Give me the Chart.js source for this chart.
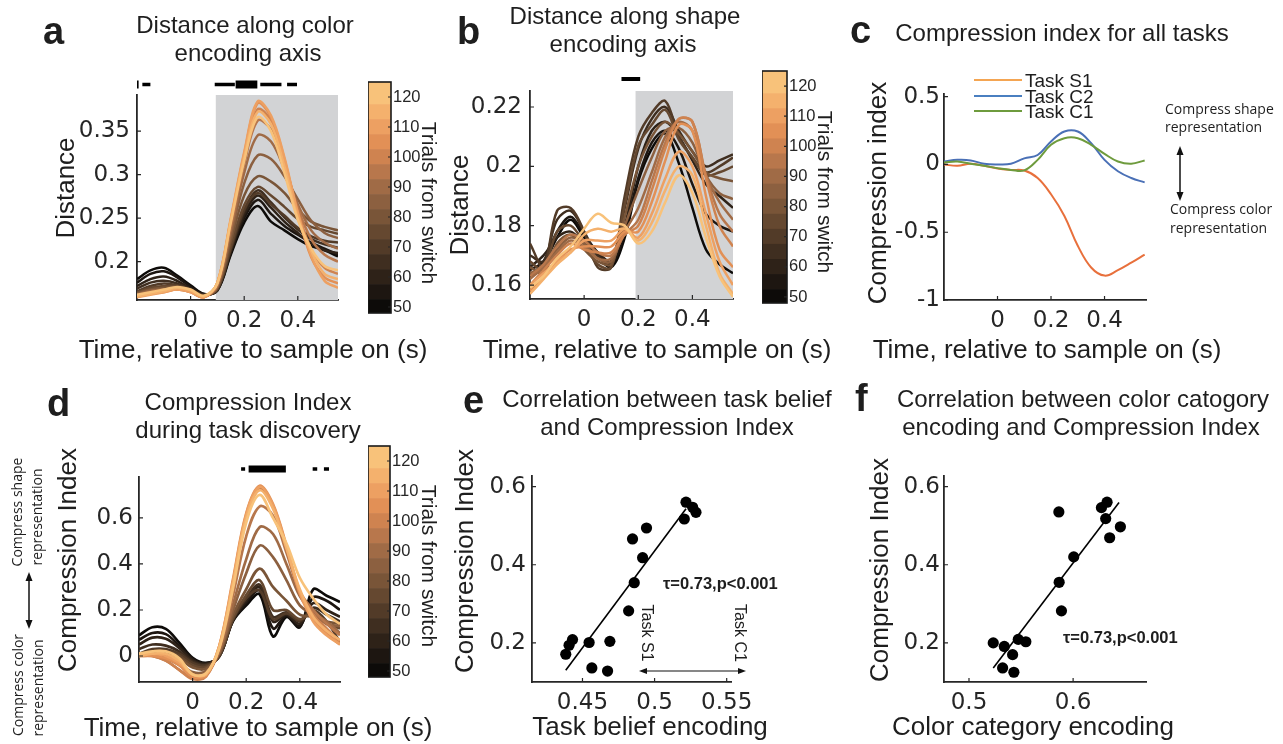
<!DOCTYPE html>
<html>
<head>
<meta charset="utf-8">
<title>Compression index during task discovery</title>
<script src="https://cdn.jsdelivr.net/npm/chart.js@4.4.1/dist/chart.umd.min.js"></script>
<style>
  body { margin: 0; width: 1283px; height: 744px; background: #fff; position: relative; overflow: hidden; color: #1e1e1e; font-family: "Liberation Sans", Arial, sans-serif; }
  canvas { position: absolute; }
  .t { position: absolute; white-space: nowrap; line-height: 1; z-index: 3; }
  .leg { position: absolute; height: 0; width: 48px; border-top: 2px solid; z-index: 3; }
  svg { position: absolute; left: 0; top: 0; z-index: 2; }
</style>
</head>
<body>
<svg width="1283" height="744">
  <g stroke="#111" stroke-width="1.5" fill="#111">
    <line x1="1180" y1="152" x2="1180" y2="195"/>
    <polygon points="1180,146 1176.5,155 1183.5,155" stroke="none"/>
    <polygon points="1180,201 1176.5,192 1183.5,192" stroke="none"/>
    <line x1="29" y1="578" x2="29" y2="623"/>
    <polygon points="29,572 25.5,581 32.5,581" stroke="none"/>
    <polygon points="29,629 25.5,620 32.5,620" stroke="none"/>
    <line x1="645" y1="671" x2="740" y2="671" stroke-width="1.2"/>
    <polygon points="639,671 647,668 647,674" stroke="none"/>
    <polygon points="746,671 738,668 738,674" stroke="none"/>
  </g>
</svg>
<script>
const INK = '#262626';
const TITLE_FONT = '"Liberation Sans", Arial, sans-serif';
const NOTE_FONT = '"Open Sans", "Liberation Sans", sans-serif';

// --- DATA ---
const timeS = [-0.2, -0.15, -0.1, -0.05, 0, 0.05, 0.1, 0.15, 0.2, 0.25, 0.3, 0.35, 0.4, 0.45, 0.5, 0.55];
const trials = [50, 55, 60, 65, 70, 75, 80, 85, 90, 95, 100, 105, 110, 115, 120];
const trialColors = ['#0d0b09', '#1d1611', '#2e2218', '#3f2e20', '#523b28', '#654830', '#795538', '#8c6040',
                     '#a06b46', '#b8774c', '#cf8350', '#e29056', '#eda062', '#f4b16d', '#f8c27a'];
const cbEdges = [48, 52.5, 57.5, 62.5, 67.5, 72.5, 77.5, 82.5, 87.5, 92.5, 97.5, 102.5, 107.5, 112.5, 117.5, 125];
const cbTicks = [50, 60, 70, 80, 90, 100, 110, 120];
const timeTicks = [0, 0.2, 0.4];

// a: distance along color encoding axis, one row per trial bin
const distColor = [
  [0.180, 0.190, 0.193, 0.184, 0.173, 0.163, 0.167, 0.208, 0.245, 0.264, 0.246, 0.236, 0.226, 0.218, 0.213, 0.206],
  [0.176, 0.186, 0.189, 0.182, 0.171, 0.163, 0.167, 0.210, 0.250, 0.271, 0.255, 0.241, 0.231, 0.222, 0.215, 0.208],
  [0.172, 0.180, 0.183, 0.178, 0.169, 0.162, 0.168, 0.212, 0.254, 0.276, 0.262, 0.246, 0.233, 0.221, 0.213, 0.210],
  [0.169, 0.176, 0.178, 0.175, 0.168, 0.162, 0.168, 0.214, 0.258, 0.282, 0.268, 0.251, 0.237, 0.226, 0.220, 0.216],
  [0.166, 0.172, 0.175, 0.173, 0.168, 0.161, 0.168, 0.215, 0.260, 0.279, 0.266, 0.253, 0.239, 0.229, 0.224, 0.222],
  [0.165, 0.170, 0.172, 0.172, 0.167, 0.161, 0.169, 0.218, 0.265, 0.286, 0.276, 0.263, 0.249, 0.240, 0.236, 0.232],
  [0.164, 0.168, 0.170, 0.171, 0.167, 0.161, 0.170, 0.224, 0.276, 0.298, 0.292, 0.279, 0.260, 0.246, 0.240, 0.236],
  [0.163, 0.167, 0.168, 0.170, 0.166, 0.160, 0.171, 0.230, 0.290, 0.322, 0.318, 0.298, 0.272, 0.247, 0.233, 0.227],
  [0.162, 0.166, 0.168, 0.169, 0.166, 0.160, 0.172, 0.236, 0.302, 0.345, 0.338, 0.306, 0.266, 0.236, 0.222, 0.215],
  [0.161, 0.165, 0.167, 0.169, 0.166, 0.160, 0.173, 0.240, 0.312, 0.362, 0.352, 0.312, 0.262, 0.226, 0.208, 0.200],
  [0.160, 0.163, 0.166, 0.168, 0.165, 0.159, 0.175, 0.246, 0.320, 0.375, 0.362, 0.314, 0.258, 0.214, 0.193, 0.186],
  [0.160, 0.163, 0.165, 0.168, 0.165, 0.159, 0.176, 0.248, 0.324, 0.382, 0.366, 0.318, 0.255, 0.205, 0.182, 0.175],
  [0.159, 0.162, 0.165, 0.168, 0.165, 0.159, 0.176, 0.250, 0.326, 0.384, 0.368, 0.320, 0.256, 0.207, 0.178, 0.170],
  [0.160, 0.163, 0.166, 0.170, 0.167, 0.160, 0.176, 0.248, 0.320, 0.372, 0.358, 0.310, 0.250, 0.212, 0.186, 0.180],
  [0.162, 0.165, 0.168, 0.171, 0.168, 0.161, 0.175, 0.245, 0.316, 0.366, 0.350, 0.302, 0.248, 0.215, 0.195, 0.190]
];
const ticksDistColor = [0.2, 0.25, 0.3, 0.35];
const shadeColor = [0.094, 0.55];
const sigThinA = [[-0.18, -0.15], [0.09, 0.165], [0.26, 0.339], [0.36, 0.397]];
const sigThickA = [[-0.2, -0.194], [0.168, 0.249]];

// b: distance along shape encoding axis
const distShape = [
  [0.163, 0.167, 0.176, 0.182, 0.176, 0.170, 0.166, 0.176, 0.195, 0.206, 0.211, 0.201, 0.186, 0.172, 0.167, 0.164],
  [0.165, 0.168, 0.178, 0.183, 0.177, 0.171, 0.167, 0.178, 0.196, 0.208, 0.212, 0.206, 0.194, 0.184, 0.180, 0.178],
  [0.166, 0.170, 0.176, 0.178, 0.174, 0.171, 0.168, 0.180, 0.200, 0.212, 0.215, 0.210, 0.202, 0.194, 0.190, 0.186],
  [0.170, 0.168, 0.182, 0.185, 0.178, 0.170, 0.168, 0.186, 0.206, 0.216, 0.220, 0.212, 0.205, 0.200, 0.202, 0.204],
  [0.174, 0.166, 0.185, 0.186, 0.178, 0.166, 0.166, 0.190, 0.210, 0.218, 0.222, 0.210, 0.203, 0.198, 0.200, 0.203],
  [0.168, 0.165, 0.178, 0.180, 0.174, 0.167, 0.166, 0.187, 0.207, 0.214, 0.219, 0.209, 0.203, 0.197, 0.198, 0.200],
  [0.166, 0.164, 0.174, 0.177, 0.172, 0.168, 0.167, 0.183, 0.200, 0.210, 0.215, 0.211, 0.205, 0.198, 0.196, 0.195],
  [0.164, 0.166, 0.172, 0.176, 0.174, 0.169, 0.168, 0.180, 0.192, 0.203, 0.212, 0.213, 0.208, 0.197, 0.191, 0.189],
  [0.162, 0.166, 0.171, 0.175, 0.173, 0.169, 0.169, 0.178, 0.186, 0.198, 0.210, 0.215, 0.212, 0.197, 0.188, 0.182],
  [0.163, 0.167, 0.173, 0.177, 0.175, 0.171, 0.170, 0.177, 0.182, 0.195, 0.208, 0.216, 0.215, 0.197, 0.184, 0.178],
  [0.160, 0.165, 0.170, 0.174, 0.172, 0.171, 0.171, 0.177, 0.180, 0.192, 0.206, 0.216, 0.215, 0.196, 0.180, 0.173],
  [0.158, 0.163, 0.168, 0.172, 0.173, 0.173, 0.173, 0.178, 0.178, 0.188, 0.202, 0.214, 0.212, 0.190, 0.172, 0.166],
  [0.160, 0.164, 0.168, 0.171, 0.175, 0.175, 0.175, 0.179, 0.176, 0.184, 0.196, 0.205, 0.200, 0.184, 0.168, 0.160],
  [0.157, 0.162, 0.167, 0.171, 0.177, 0.179, 0.178, 0.179, 0.175, 0.181, 0.192, 0.200, 0.197, 0.180, 0.164, 0.157],
  [0.159, 0.163, 0.169, 0.173, 0.179, 0.184, 0.181, 0.180, 0.174, 0.178, 0.188, 0.197, 0.191, 0.176, 0.163, 0.156]
];
const ticksDistShape = [0.16, 0.18, 0.2, 0.22];
const shadeShape = [0.19, 0.55];
const sigThinB = [[0.138, 0.207]];

// c: compression index for all tasks
const taskNames = ['Task S1', 'Task C2', 'Task C1'];
const ciTaskS1 = [0.00, -0.01, 0.005, -0.01, -0.03, -0.04, -0.045, -0.10, -0.22, -0.38, -0.60, -0.76, -0.82, -0.78, -0.725, -0.665];
const ciTaskC2 = [0.022, 0.034, 0.03, 0.005, 0.0, 0.005, 0.045, 0.07, 0.17, 0.243, 0.243, 0.157, 0.034, -0.05, -0.10, -0.132];
const ciTaskC1 = [0.015, 0.022, 0.005, -0.01, -0.027, -0.04, -0.044, 0.034, 0.145, 0.194, 0.194, 0.145, 0.078, 0.022, 0.005, 0.03];
const ticksCI = [-1, -0.5, 0, 0.5];

// d: compression index during task discovery
const ciDiscovery = [
  [0.090, 0.125, 0.118, 0.058, -0.008, -0.030, 0.000, 0.150, 0.220, 0.268, 0.085, 0.170, 0.125, 0.290, 0.262, 0.235],
  [0.070, 0.100, 0.095, 0.045, -0.012, -0.032, 0.000, 0.152, 0.230, 0.285, 0.120, 0.175, 0.130, 0.255, 0.240, 0.200],
  [0.050, 0.080, 0.075, 0.035, -0.018, -0.035, 0.000, 0.154, 0.240, 0.300, 0.150, 0.180, 0.140, 0.230, 0.200, 0.170],
  [0.030, 0.050, 0.045, 0.020, -0.025, -0.038, 0.000, 0.156, 0.250, 0.310, 0.170, 0.190, 0.150, 0.210, 0.180, 0.150],
  [0.010, 0.030, 0.030, 0.010, -0.030, -0.042, 0.000, 0.158, 0.252, 0.285, 0.160, 0.185, 0.155, 0.200, 0.150, 0.060],
  [0.000, 0.020, 0.020, 0.000, -0.040, -0.048, 0.005, 0.162, 0.265, 0.330, 0.200, 0.200, 0.160, 0.190, 0.140, 0.120],
  [0.010, 0.015, 0.010, -0.010, -0.050, -0.055, 0.010, 0.175, 0.290, 0.380, 0.300, 0.240, 0.180, 0.170, 0.150, 0.140],
  [0.000, 0.010, 0.000, -0.030, -0.070, -0.065, 0.015, 0.195, 0.360, 0.480, 0.430, 0.330, 0.220, 0.180, 0.140, 0.130],
  [0.005, 0.005, -0.010, -0.040, -0.080, -0.075, 0.020, 0.220, 0.420, 0.560, 0.530, 0.400, 0.260, 0.190, 0.150, 0.100],
  [0.000, 0.000, -0.020, -0.060, -0.095, -0.085, 0.030, 0.260, 0.520, 0.650, 0.610, 0.450, 0.280, 0.200, 0.140, 0.090],
  [0.010, 0.000, -0.020, -0.060, -0.100, -0.090, 0.040, 0.310, 0.600, 0.725, 0.650, 0.470, 0.280, 0.180, 0.120, 0.060],
  [0.000, 0.000, -0.010, -0.040, -0.090, -0.085, 0.045, 0.330, 0.620, 0.740, 0.660, 0.480, 0.270, 0.160, 0.100, 0.050],
  [0.010, 0.010, 0.000, -0.030, -0.080, -0.080, 0.045, 0.320, 0.615, 0.735, 0.655, 0.475, 0.280, 0.150, 0.090, 0.050],
  [0.000, 0.010, 0.010, -0.020, -0.080, -0.080, 0.040, 0.310, 0.600, 0.720, 0.640, 0.470, 0.290, 0.170, 0.110, 0.070],
  [0.010, 0.020, 0.020, -0.010, -0.080, -0.075, 0.035, 0.290, 0.580, 0.700, 0.600, 0.490, 0.340, 0.250, 0.180, 0.140]
];
const ticksCIdisc = [0, 0.2, 0.4, 0.6];
const sigThinD = [[0.181, 0.196], [0.448, 0.465], [0.49, 0.509]];
const sigThickD = [[0.209, 0.348]];

// e: task belief vs compression index
const beliefX = [0.4384, 0.4407, 0.4431, 0.4546, 0.4565, 0.4674, 0.4690, 0.4820, 0.4859, 0.4847, 0.4917, 0.4944, 0.5206, 0.5218, 0.5264, 0.5287];
const beliefCI = [0.171, 0.194, 0.2085, 0.201, 0.136, 0.128, 0.204, 0.282, 0.354, 0.466, 0.418, 0.494, 0.517, 0.560, 0.547, 0.534];
const beliefFitX = [0.4384, 0.5218];
const beliefFitY = [0.130, 0.543];
const ticksBelief = [0.45, 0.5, 0.55];

// f: color category encoding vs compression index
const colorCatX = [0.5233, 0.5339, 0.5419, 0.5323, 0.5431, 0.5473, 0.5546, 0.5863, 0.5866, 0.5888, 0.6006, 0.6272, 0.6326, 0.6313, 0.6351, 0.6454];
const colorCatCI = [0.200, 0.191, 0.170, 0.136, 0.125, 0.209, 0.203, 0.535, 0.355, 0.282, 0.420, 0.546, 0.560, 0.518, 0.469, 0.497];
const colorFitX = [0.5233, 0.6441];
const colorFitY = [0.136, 0.559];
const ticksColorCat = [0.5, 0.6];
const ticksCIscatter = [0.2, 0.4, 0.6];

// --- PLUGINS ---
const innerTicks = {
  id: 'innerTicks',
  afterDraw(chart, args, o) {
    if (!o.len) return;
    const { ctx, chartArea: a, scales } = chart;
    ctx.save();
    ctx.strokeStyle = INK;
    ctx.lineWidth = 1.2;
    ctx.beginPath();
    if (o.side === 'right') {
      scales.y.ticks.forEach(t => { const p = scales.y.getPixelForValue(t.value); ctx.moveTo(a.right, p); ctx.lineTo(a.right - o.len, p); });
    } else {
      scales.x.ticks.forEach(t => { const p = scales.x.getPixelForValue(t.value); ctx.moveTo(p, a.bottom); ctx.lineTo(p, a.bottom - o.len); });
      scales.y.ticks.forEach(t => { const p = scales.y.getPixelForValue(t.value); ctx.moveTo(a.left, p); ctx.lineTo(a.left + o.len, p); });
    }
    ctx.stroke();
    ctx.restore();
  }
};

const shade = {
  id: 'shade',
  beforeDatasetsDraw(chart, args, o) {
    if (!o.range) return;
    const { ctx, chartArea: a, scales: { x } } = chart;
    const x0 = x.getPixelForValue(o.range[0]), x1 = x.getPixelForValue(o.range[1]);
    ctx.save();
    ctx.fillStyle = '#d2d3d5';
    ctx.fillRect(x0, a.top, x1 - x0, a.bottom - a.top);
    ctx.restore();
  }
};

const sigBars = {
  id: 'sigBars',
  afterDraw(chart, args, o) {
    if (!o.thin) return;
    const { ctx, chartArea: a, scales: { x } } = chart;
    const yc = a.top - o.gap;
    const bar = (r, h) => {
      const x0 = x.getPixelForValue(r[0]), x1 = x.getPixelForValue(r[1]);
      ctx.fillRect(x0, yc - h / 2, x1 - x0, h);
    };
    ctx.save();
    ctx.fillStyle = '#000';
    o.thin.forEach(r => bar(r, o.thinH));
    (o.thick || []).forEach(r => bar(r, o.thickH));
    ctx.restore();
  }
};

const frame = {
  id: 'frame',
  afterDatasetsDraw(chart, args, o) {
    if (!o.on) return;
    const { ctx, chartArea: a } = chart;
    ctx.save();
    ctx.strokeStyle = '#1a1a1a';
    ctx.lineWidth = 1.6;
    ctx.strokeRect(a.left, a.top, a.right - a.left, a.bottom - a.top);
    ctx.restore();
  }
};

Chart.register(innerTicks, shade, sigBars, frame);
Chart.defaults.animation = false;
Chart.defaults.responsive = false;
Chart.defaults.events = [];
Chart.defaults.font.family = 'DejaVu Sans';
Chart.defaults.color = INK;
Chart.defaults.plugins.legend.display = false;
Chart.defaults.plugins.tooltip.enabled = false;

// --- HELPERS ---
function mkCanvas(left, top, w, h) {
  const c = document.createElement('canvas');
  c.width = w;
  c.height = h;
  c.style.left = left + 'px';
  c.style.top = top + 'px';
  document.body.appendChild(c);
  return c;
}

function T(s, x, y, size, o = {}) {
  const d = document.createElement('div');
  d.className = 't';
  d.textContent = s;
  d.style.left = x + 'px';
  d.style.top = y + 'px';
  d.style.fontSize = size + 'px';
  d.style.fontFamily = o.font || TITLE_FONT;
  if (o.bold) d.style.fontWeight = 'bold';
  d.style.transform = `translate(${o.left ? '0' : '-50%'},-50%)` + (o.rot ? ` rotate(${o.rot}deg)` : '');
  document.body.appendChild(d);
}

function axis(range, ticks, pad, fit) {
  return {
    type: 'linear', min: range[0], max: range[1],
    afterBuildTicks: s => { s.ticks = ticks.map(v => ({ value: v })); },
    afterFit: fit,
    grid: { display: false, drawTicks: false },
    border: { display: true, color: INK, width: 1.8 },
    ticks: { font: { size: 23 }, color: INK, padding: pad, maxRotation: 0, autoSkip: false, callback: v => String(v) }
  };
}

// area = chart area in page pixels; axes get fixed room so the plot lands exactly there
function plot(type, area, datasets, xr, yr, xt, yt, extra = {}, yPad = 6) {
  const cv = mkCanvas(area.x - 70, area.y - 24, area.w + 98, area.h + 64);
  return new Chart(cv, {
    type,
    data: { datasets },
    options: {
      layout: { padding: { top: 24, right: 28, left: 0, bottom: 0 } },
      scales: {
        x: axis(xr, xt, 7, s => { s.height = 40; }),
        y: axis(yr, yt, yPad, s => { s.width = 70; })
      },
      plugins: Object.assign({ innerTicks: { len: 4 } }, extra)
    }
  });
}

const trialSets = (rows, w) => rows.map((vals, i) => ({
  label: trials[i] + ' trials',
  data: vals.map((v, j) => ({ x: timeS[j], y: v })),
  borderColor: trialColors[i], borderWidth: w, pointRadius: 0, tension: 0.35
})).reverse();

const curve = (vals, color, label) => ({
  label, data: vals.map((v, j) => ({ x: timeS[j], y: v })),
  borderColor: color, borderWidth: 2, pointRadius: 0, tension: 0.4
});

const dots = (xs, ys) => ({ type: 'scatter', data: xs.map((x, i) => ({ x, y: ys[i] })), pointRadius: 5.6, backgroundColor: '#000', borderWidth: 0 });
const fitLine = (xs, ys) => ({ type: 'line', data: xs.map((x, i) => ({ x, y: ys[i] })), borderColor: '#000', borderWidth: 1.6, pointRadius: 0, showLine: true });

function colorbar(area) {
  const cv = mkCanvas(area.x, area.y - 15, area.w + 45, area.h + 30);
  new Chart(cv, {
    type: 'bar',
    data: {
      labels: [''],
      datasets: trialColors.map((c, i) => ({
        label: trials[i] + ' trials', data: [[cbEdges[i], cbEdges[i + 1]]],
        backgroundColor: c, grouped: false, barPercentage: 1, categoryPercentage: 1, borderWidth: 0
      }))
    },
    options: {
      layout: { padding: { top: 15, bottom: 15, left: 0, right: 0 } },
      scales: {
        x: { display: false },
        y: {
          position: 'right', min: cbEdges[0], max: cbEdges[cbEdges.length - 1],
          afterBuildTicks: s => { s.ticks = cbTicks.map(v => ({ value: v })); },
          afterFit: s => { s.width = 45; },
          grid: { display: false, drawTicks: false }, border: { display: false },
          ticks: { font: { family: TITLE_FONT, size: 16.5 }, color: INK, padding: 2 }
        }
      },
      plugins: { frame: { on: true }, innerTicks: { len: 3, side: 'right' } }
    }
  });
}

// --- PANELS ---
plot('line', { x: 137, y: 95, w: 201, h: 205 }, trialSets(distColor, 2.5), [-0.2, 0.55], [0.156, 0.3915], timeTicks, ticksDistColor,
  { shade: { range: shadeColor }, sigBars: { gap: 10.5, thin: sigThinA, thick: sigThickA, thinH: 3.5, thickH: 8 } }, 7);
colorbar({ x: 368, y: 82, w: 23, h: 231 });

plot('line', { x: 530, y: 91, w: 203, h: 208 }, trialSets(distShape, 2.5), [-0.2, 0.55], [0.1553, 0.2254], timeTicks, ticksDistShape,
  { shade: { range: shadeShape }, sigBars: { gap: 12, thin: sigThinB, thinH: 4 } }, 8);
colorbar({ x: 762, y: 71, w: 25, h: 232 });

plot('line', { x: 944, y: 94, w: 202, h: 206 },
  [curve(ciTaskC1, '#6e9b3d', taskNames[2]), curve(ciTaskC2, '#4a70b6', taskNames[1]), curve(ciTaskS1, '#e8703c', taskNames[0])],
  [-0.2, 0.555], [-1, 0.52], timeTicks, ticksCI, {}, 4);

plot('line', { x: 139, y: 477, w: 201, h: 205 }, trialSets(ciDiscovery, 2.7), [-0.2, 0.55], [-0.113, 0.778], timeTicks, ticksCIdisc,
  { sigBars: { gap: 8, thin: sigThinD, thick: sigThickD, thinH: 3.5, thickH: 7 } }, 6);
colorbar({ x: 368, y: 446, w: 22, h: 231 });

plot('scatter', { x: 532, y: 476, w: 200, h: 206 }, [dots(beliefX, beliefCI), fitLine(beliefFitX, beliefFitY)],
  [0.415, 0.5535], [0.1, 0.627], ticksBelief, ticksCIscatter, {}, 6);

plot('scatter', { x: 944, y: 476, w: 202, h: 206 }, [dots(colorCatX, colorCatCI), fitLine(colorFitX, colorFitY)],
  [0.476, 0.670], [0.1, 0.627], ticksColorCat, ticksCIscatter, {}, 4);

// --- TEXT ---
const LET = { bold: true, left: true };
T('a', 43, 31, 38, LET);
T('b', 457, 31, 38, LET);
T('c', 850, 30, 38, LET);
T('d', 47, 403, 38, LET);
T('e', 463, 400, 38, LET);
T('f', 855, 398, 38, LET);

T('Distance along color', 245, 25, 24);
T('encoding axis', 248, 53, 24);
T('Distance along shape', 625, 16, 24);
T('encoding axis', 623, 44, 24);
T('Compression index for all tasks', 1062, 33, 24);
T('Compression Index', 248, 402, 24);
T('during task discovery', 248, 430, 24);
T('Correlation between task belief', 667, 399, 24);
T('and Compression Index', 667, 427, 24);
T('Correlation between color catogory', 1083, 399, 24);
T('encoding and Compression Index', 1081, 427, 24);

const XT = 'Time, relative to sample on (s)';
T(XT, 253, 349, 26);
T(XT, 657, 349, 26);
T(XT, 1047, 349, 26);
T(XT, 258, 727, 26);
T('Task belief encoding', 650, 726, 26);
T('Color category encoding', 1033, 726, 26);

T('Distance', 65, 188, 26, { rot: -90 });
T('Distance', 459, 205, 26, { rot: -90 });
T('Compression index', 877, 193, 26, { rot: -90 });
T('Compression Index', 67, 560, 26, { rot: -90 });
T('Compression Index', 464, 561, 26, { rot: -90 });
T('Compression Index', 879, 570, 26, { rot: -90 });

T('Trials from switch', 429, 203, 21, { rot: 90 });
T('Trials from switch', 825, 192, 21, { rot: 90 });
T('Trials from switch', 429, 566, 21, { rot: 90 });

// legend of panel c
const legendColors = ['#f4a552', '#4a7fc0', '#6e9b3d'];
const legendY = [80, 96, 111];
taskNames.forEach((n, i) => {
  const l = document.createElement('div');
  l.className = 'leg';
  l.style.left = '974px';
  l.style.top = (legendY[i] - 1) + 'px';
  l.style.borderColor = legendColors[i];
  document.body.appendChild(l);
  T(n, 1025, legendY[i], 19, { left: true });
});

const NOTE = { font: NOTE_FONT, left: true };
T('Compress shape', 1165, 109, 14, NOTE);
T('representation', 1165, 127, 14, NOTE);
T('Compress color', 1170, 209, 14, NOTE);
T('representation', 1170, 228, 14, NOTE);

T('Compress shape', 17, 512, 14, { font: NOTE_FONT, rot: -90 });
T('representation', 37, 517, 14, { font: NOTE_FONT, rot: -90 });
T('Compress color', 18, 685, 14, { font: NOTE_FONT, rot: -90 });
T('representation', 38, 688, 14, { font: NOTE_FONT, rot: -90 });

T('τ=0.73,p<0.001', 663, 583, 16.5, { bold: true, left: true });
T('τ=0.73,p<0.001', 1063, 637, 16.5, { bold: true, left: true });
T('Task S1', 647, 633, 16, { rot: 90 });
T('Task C1', 740, 633, 16, { rot: 90 });
</script>
</body>
</html>
